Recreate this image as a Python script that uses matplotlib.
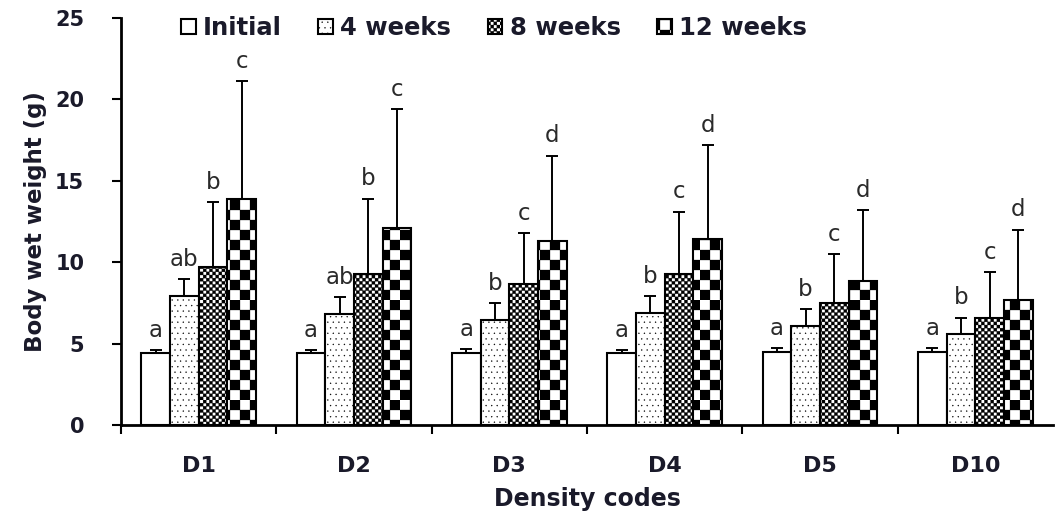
import warnings
import numpy as np
import matplotlib
matplotlib.use("Agg")
import matplotlib.pyplot as plt
import matplotlib.hatch as mhatch
from matplotlib.path import Path

warnings.filterwarnings("ignore")

# data
codes_lbl = ["D1", "D2", "D3", "D4", "D5", "D10"]
series = ["Initial", "4 weeks", "8 weeks", "12 weeks"]

initial = [4.4, 4.4, 4.4, 4.4, 4.5, 4.5]
initial_sd = [0.2, 0.2, 0.25, 0.2, 0.2, 0.2]
week4 = [7.95, 6.8, 6.45, 6.9, 6.1, 5.6]
week4_sd = [1.0, 1.05, 1.05, 1.0, 1.0, 1.0]
week8 = [9.7, 9.3, 8.65, 9.3, 7.5, 6.55]
week8_sd = [4.0, 4.6, 3.15, 3.8, 3.0, 2.85]
week12 = [13.9, 12.1, 11.3, 11.4, 8.85, 7.7]
week12_sd = [7.2, 7.3, 5.25, 5.8, 4.35, 4.3]

letters_initial = ["a", "a", "a", "a", "a", "a"]
letters_4 = ["ab", "ab", "b", "b", "b", "b"]
letters_8 = ["b", "b", "c", "c", "c", "c"]
letters_12 = ["c", "c", "d", "d", "d", "d"]


class CheckerHatch(mhatch.HatchPatternBase):
    """Filled checkerboard hatch, '#' count sets cells per tile."""

    def __init__(self, hatch, density):
        self.n = 2 * hatch.count('#')
        self.num_vertices = (self.n * self.n // 2) * 5

    def set_vertices_and_codes(self, vertices, codes):
        s = 1.0 / self.n
        k = 0
        for i in range(self.n):
            for j in range(self.n):
                if (i + j) % 2:
                    continue
                x0, y0 = i * s, j * s
                vertices[k:k + 5] = [(x0, y0), (x0 + s, y0), (x0 + s, y0 + s),
                                     (x0, y0 + s), (x0, y0)]
                codes[k] = Path.MOVETO
                codes[k + 1:k + 4] = Path.LINETO
                codes[k + 4] = Path.CLOSEPOLY
                k += 5


mhatch._hatch_types.append(CheckerHatch)

plt.rcParams['font.family'] = ['DejaVu Sans']
plt.rcParams['hatch.linewidth'] = 0.2

fig = plt.figure(figsize=(10.57, 5.16), dpi=100)
ax = fig.add_axes([121 / 1057, 1 - 425 / 516, 932 / 1057, 407 / 516])

x = np.arange(len(codes_lbl))
width = 0.185
values = [initial, week4, week8, week12]
sds = [initial_sd, week4_sd, week8_sd, week12_sd]
letters = [letters_initial, letters_4, letters_8, letters_12]
hatches = [None, '...', '#' * 16, '#' * 5]

for i in range(4):
    pos = x + (i - 1.5) * width
    ax.bar(pos, values[i], width, color='white', edgecolor='black',
           linewidth=1.5, hatch=hatches[i], label=series[i], zorder=2)
    ax.errorbar(pos, values[i], yerr=[np.zeros(len(x)), sds[i]], fmt='none',
                ecolor='black', elinewidth=1.4, capsize=4.5, capthick=1.4,
                zorder=3)
    for p, v, s, t in zip(pos, values[i], sds[i], letters[i]):
        ax.annotate(t, (p, v + s), xytext=(0, 6), textcoords='offset points',
                    ha='center', va='bottom', fontsize=16.5, color='#2a2a2a')

ax.set_xlim(-0.5, 5.5)
ax.set_ylim(0, 25)
ax.set_yticks([0, 5, 10, 15, 20, 25])
ax.set_xticks(x)
ax.set_xticklabels(codes_lbl)
ax.set_xticks(np.arange(-0.5, 5.0, 1.0), minor=True)
ax.tick_params(axis='x', which='major', length=0, pad=22)
ax.tick_params(axis='x', which='minor', length=6.5, width=1.5, direction='out')
ax.tick_params(axis='y', length=6.5, width=1.5, direction='out', pad=20)
for lab in ax.get_yticklabels():
    lab.set_fontsize(15)
    lab.set_fontweight('bold')
    lab.set_color('#1a1a2a')
for lab in ax.get_xticklabels():
    lab.set_fontsize(16)
    lab.set_fontweight('bold')
    lab.set_color('#1a1a2a')

for side in ['top', 'right']:
    ax.spines[side].set_visible(False)
for side in ['left', 'bottom']:
    ax.spines[side].set_linewidth(2)

ax.set_ylabel('Body wet weight (g)', fontsize=16.5, fontweight='bold',
              labelpad=6, color='#1a1a2a')
ax.set_xlabel('Density codes', fontsize=17, fontweight='bold', labelpad=8,
              color='#1a1a2a')

fig.legend(loc='center', bbox_to_anchor=(494 / 1057, 1 - 28 / 516),
           ncol=4, frameon=False,
           prop={'weight': 'bold', 'size': 17.5},
           handlelength=0.6, handleheight=0.6, handletextpad=0.3,
           columnspacing=1.5, labelcolor='#1a1a2a')

fig.savefig('out.png', dpi=100)
